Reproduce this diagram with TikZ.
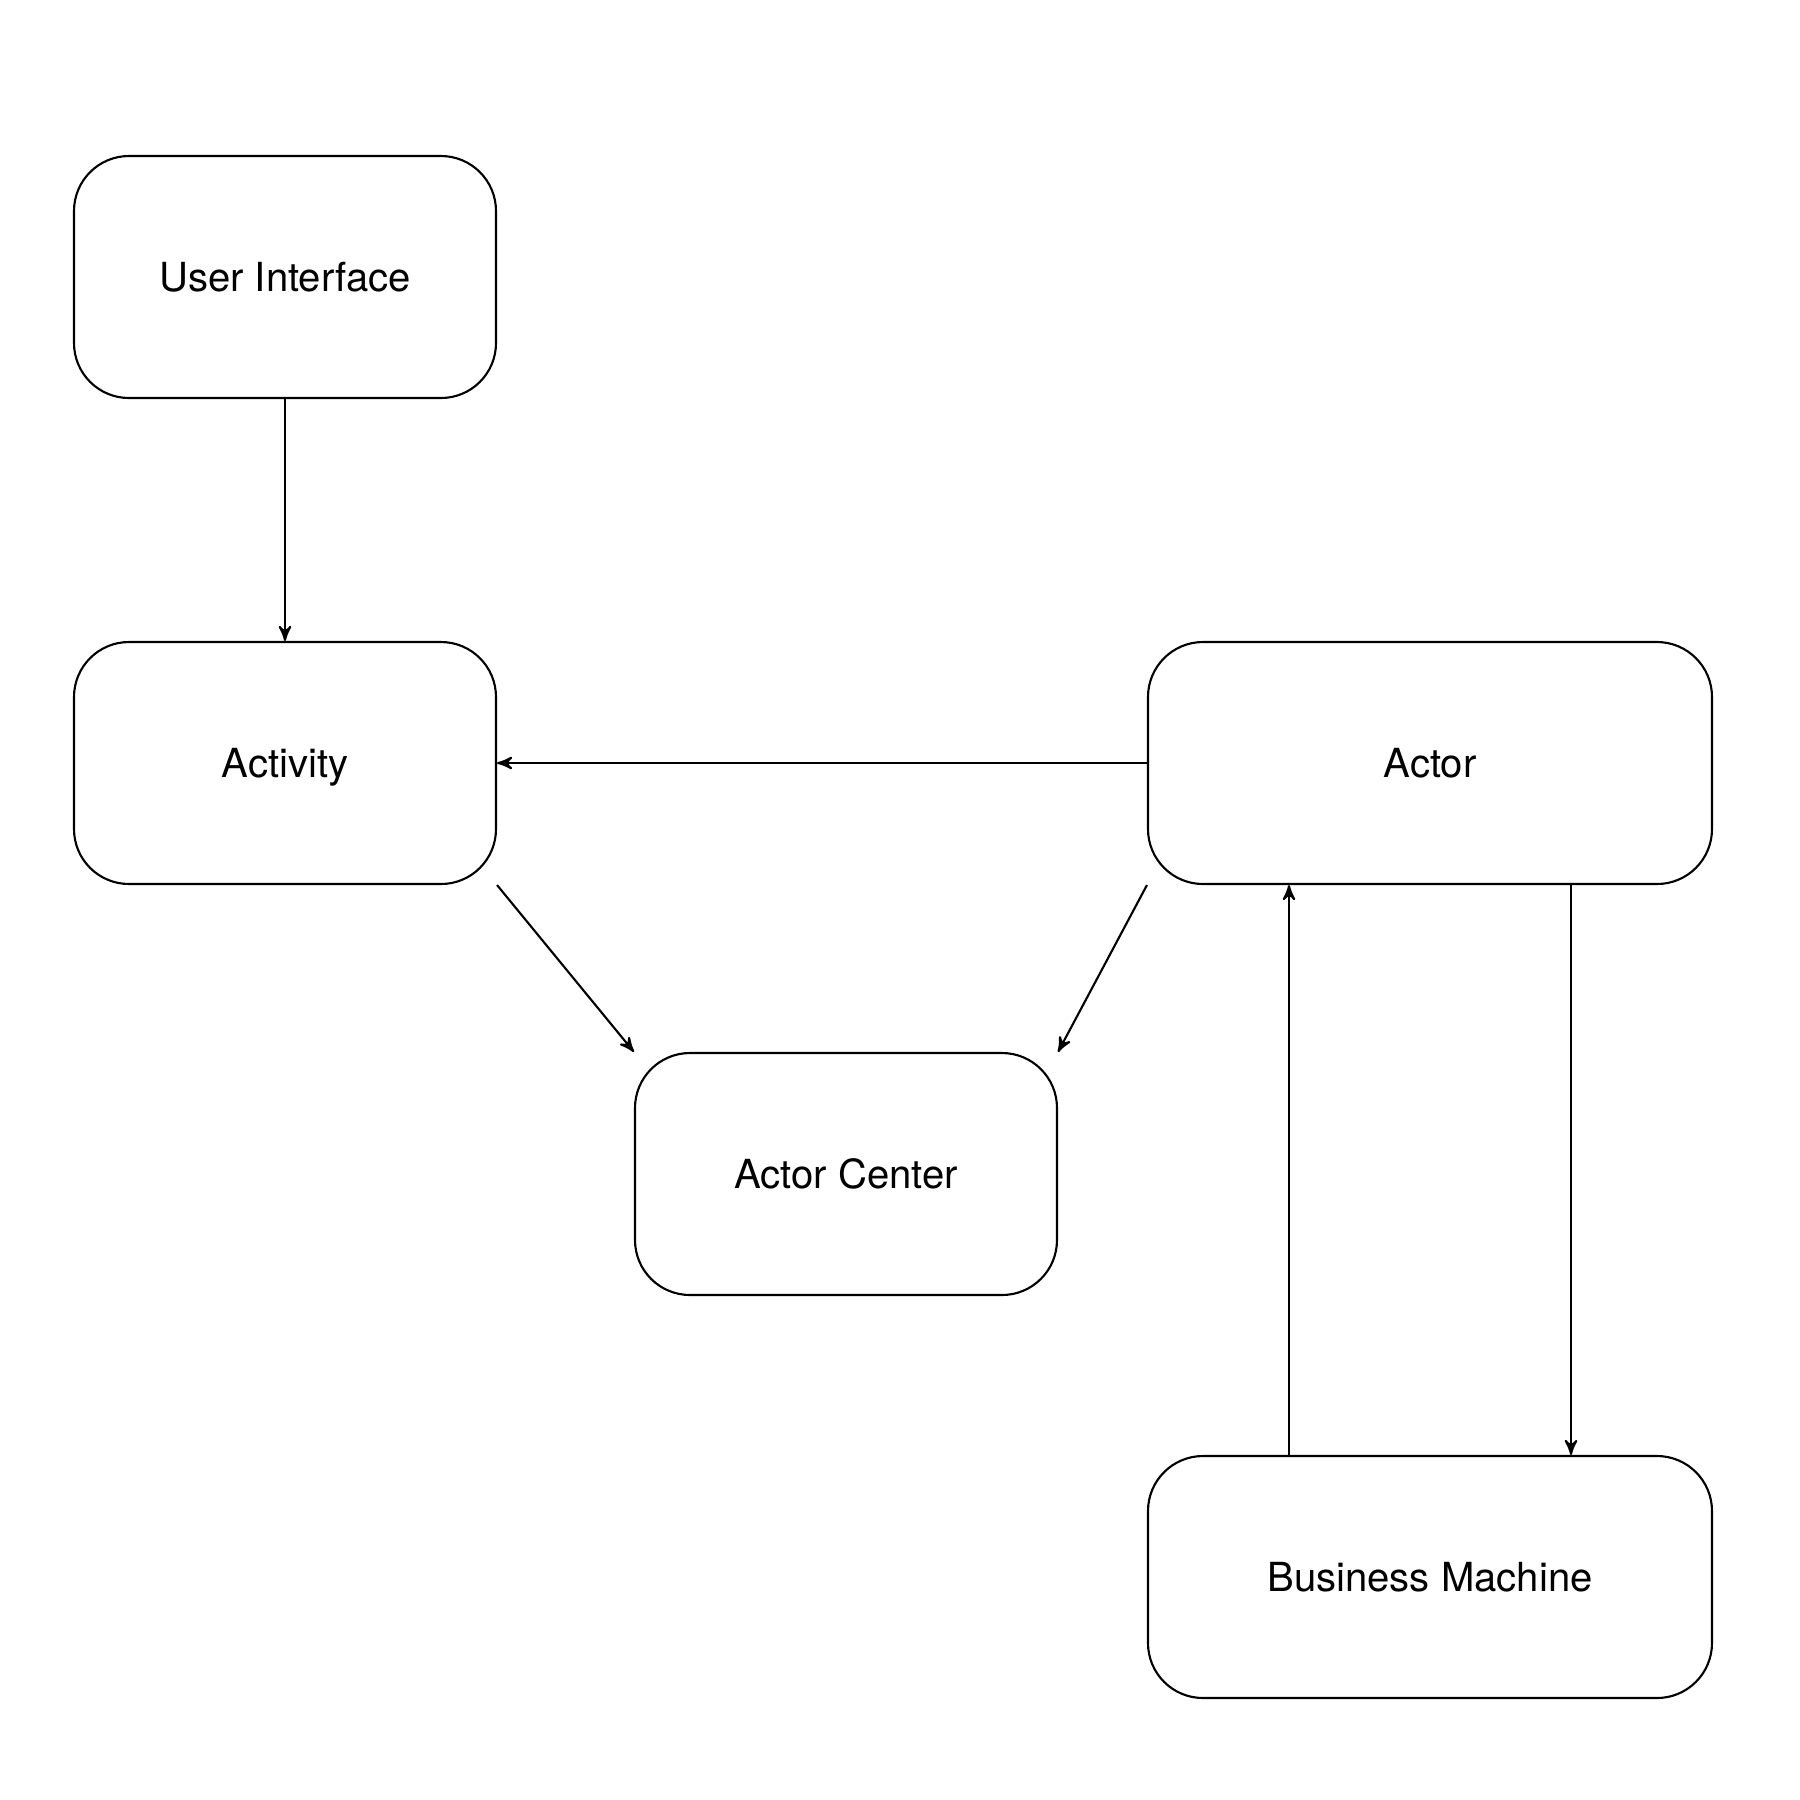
\documentclass[tikz,border=0pt]{standalone}
\usepackage{fontspec}
\setmainfont{TeX Gyre Heros}
\usetikzlibrary{arrows}

\begin{document}
\begin{tikzpicture}[->,>=stealth',line width=0.6pt,
  box/.style={rectangle,rounded corners=0.55cm,draw,minimum height=2.42cm,
    inner sep=0pt,text height=8.2pt,text depth=0pt,
    font=\fontsize{11.4}{13}\selectfont},
  small box/.style={box,minimum width=4.22cm},
  wide box/.style={box,minimum width=5.64cm}]

  \useasboundingbox (0,0) rectangle (18,-18);

  \node[small box] (ui) at (2.85,-2.77) {User Interface};
  \node[small box] (activity) at (2.85,-7.63) {Activity};
  \node[wide box] (actor) at (14.30,-7.63) {Actor};
  \node[small box] (center) at (8.46,-11.74) {Actor Center};
  \node[wide box] (machine) at (14.30,-15.77) {Business Machine};

  \path
    (ui) edge (activity)
    (actor) edge (activity)
    (activity.south east) edge (center.north west)
    (actor.south west) edge (center.north east)
    ([xshift=-1.41cm]machine.north) edge ([xshift=-1.41cm]actor.south)
    ([xshift=1.41cm]actor.south) edge ([xshift=1.41cm]machine.north);
\end{tikzpicture}
\end{document}
